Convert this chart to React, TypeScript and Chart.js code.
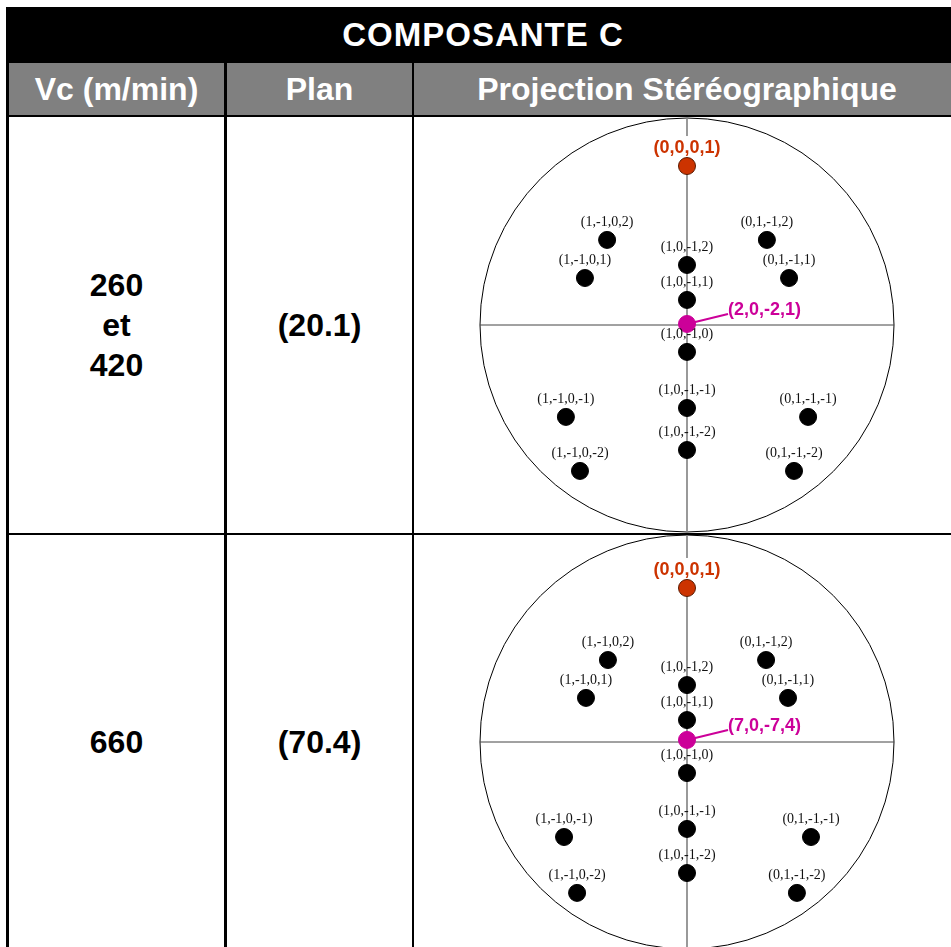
import React, { useEffect, useRef } from "react";
import { Chart, registerables } from "chart.js";

Chart.register(...registerables);

// ---------- DATA ----------
const tableTitle = "COMPOSANTE C";
const columnHeaders = ["Vc (m/min)", "Plan", "Projection Stéréographique"];
const vcValues = [["260", "et", "420"], ["660"]];
const planValues = ["(20.1)", "(70.4)"];

const poleLabels = [
  "(1,-1,0,2)", "(0,1,-1,2)", "(1,0,-1,2)", "(1,-1,0,1)", "(0,1,-1,1)",
  "(1,0,-1,1)", "(1,0,-1,0)", "(1,-1,0,-1)", "(1,0,-1,-1)", "(0,1,-1,-1)",
  "(1,0,-1,-2)", "(1,-1,0,-2)", "(0,1,-1,-2)",
];
const panel1X = [-0.386, 0.386, 0, -0.493, 0.493, 0, 0, -0.585, 0, 0.585, 0, -0.517, 0.517];
const panel1Y = [0.411, 0.411, 0.29, 0.227, 0.227, 0.121, -0.13, -0.444, -0.401, -0.444, -0.604, -0.705, -0.705];
const panel2X = [-0.382, 0.382, 0, -0.488, 0.488, 0, 0, -0.594, 0, 0.599, 0, -0.531, 0.531];
const panel2Y = [0.396, 0.396, 0.275, 0.213, 0.213, 0.106, -0.15, -0.459, -0.42, -0.459, -0.633, -0.729, -0.729];

const basalLabel = "(0,0,0,1)";
const basalY = [0.768, 0.744];
const planeLabels = ["(2,0,-2,1)", "(7,0,-7,4)"];
const planeY = [0.005, 0.01];

// ---------- STYLE ----------
const SANS = "'Liberation Sans', Arial, Helvetica, sans-serif";
const SERIF = "'Liberation Serif', 'Times New Roman', serif";
const RED = "#cc3300";
const MAGENTA = "#cc0099";

const netPlugin = {
  id: "stereonet",
  beforeDatasetsDraw(chart: any) {
    const { ctx, scales } = chart;
    const xs = scales.x, ys = scales.y;
    const cx = xs.getPixelForValue(0);
    const cy = ys.getPixelForValue(0);
    const r = xs.getPixelForValue(1) - cx;
    ctx.save();
    ctx.beginPath();
    ctx.arc(cx, cy, r, 0, Math.PI * 2);
    ctx.strokeStyle = "#000";
    ctx.lineWidth = 1;
    ctx.stroke();
    ctx.beginPath();
    ctx.moveTo(cx - r, cy);
    ctx.lineTo(cx + r, cy);
    ctx.strokeStyle = "#444";
    ctx.lineWidth = 1;
    ctx.stroke();
    ctx.beginPath();
    ctx.moveTo(cx, cy - r);
    ctx.lineTo(cx, cy + r);
    ctx.strokeStyle = "#808080";
    ctx.lineWidth = 1.6;
    ctx.stroke();
    chart.data.datasets.forEach((ds: any, i: number) => {
      if (ds.labelKind !== "plane") return;
      const meta = chart.getDatasetMeta(i);
      meta.data.forEach((el: any) => {
        ctx.beginPath();
        ctx.moveTo(el.x, el.y);
        ctx.lineTo(el.x + 41, el.y - 10);
        ctx.strokeStyle = MAGENTA;
        ctx.lineWidth = 2;
        ctx.stroke();
      });
    });
    ctx.restore();
  },
  afterDatasetsDraw(chart: any) {
    const { ctx } = chart;
    ctx.save();
    ctx.textBaseline = "middle";
    chart.data.datasets.forEach((ds: any, i: number) => {
      const meta = chart.getDatasetMeta(i);
      meta.data.forEach((el: any, j: number) => {
        const text = ds.pointLabels[j];
        if (ds.labelKind === "pole") {
          ctx.font = `14px ${SERIF}`;
          ctx.fillStyle = "#111";
          ctx.textAlign = "center";
          ctx.fillText(text, el.x, el.y - 18);
        } else if (ds.labelKind === "basal") {
          ctx.font = `bold 18px ${SANS}`;
          const w = ctx.measureText(text).width;
          ctx.fillStyle = "#fff";
          ctx.fillRect(el.x - w / 2 - 2, el.y - 30, w + 4, 21);
          ctx.fillStyle = RED;
          ctx.textAlign = "center";
          ctx.fillText(text, el.x, el.y - 18);
        } else if (ds.labelKind === "plane") {
          ctx.font = `bold 18px ${SANS}`;
          ctx.fillStyle = MAGENTA;
          ctx.textAlign = "left";
          ctx.fillText(text, el.x + 41, el.y - 14);
        }
      });
    });
    ctx.restore();
  },
};

function Stereonet({ px, py, bY, pLabel, pY, width, height, yHalf }: any) {
  const ref = useRef<HTMLCanvasElement>(null);
  useEffect(() => {
    if (!ref.current) return;
    const xHalf = width / 2 / 207;
    const chart = new Chart(ref.current, {
      type: "scatter",
      data: {
        datasets: [
          {
            data: px.map((x: number, i: number) => ({ x, y: py[i] })),
            pointLabels: poleLabels,
            labelKind: "pole",
            pointRadius: 8.5,
            pointBackgroundColor: "#000",
            pointBorderColor: "#000",
            pointBorderWidth: 1,
          } as any,
          {
            data: [{ x: 0, y: bY }],
            pointLabels: [basalLabel],
            labelKind: "basal",
            pointRadius: 8.5,
            pointBackgroundColor: RED,
            pointBorderColor: "#5a1a00",
            pointBorderWidth: 1,
          } as any,
          {
            data: [{ x: 0, y: pY }],
            pointLabels: [pLabel],
            labelKind: "plane",
            pointRadius: 8.5,
            pointBackgroundColor: MAGENTA,
            pointBorderColor: MAGENTA,
            pointBorderWidth: 1,
          } as any,
        ],
      },
      options: {
        animation: false,
        responsive: false,
        maintainAspectRatio: false,
        devicePixelRatio: 1,
        layout: { padding: 0, autoPadding: false },
        events: [],
        plugins: { legend: { display: false }, tooltip: { enabled: false } },
        scales: {
          x: { type: "linear", min: -xHalf, max: xHalf, display: false },
          y: { type: "linear", min: -yHalf, max: yHalf, display: false },
        },
      },
      plugins: [netPlugin],
    });
    return () => chart.destroy();
  }, []);
  return <canvas ref={ref} width={width} height={height} style={{ display: "block", width, height }} />;
}

const cols = [
  { l: 9, w: 215 },
  { l: 227, w: 185 },
  { l: 414, w: 546 },
];

export default function App() {
  const abs = (l: number, t: number, w: number, h: number, extra: any = {}) => ({
    position: "absolute" as const,
    left: l,
    top: t,
    width: w,
    height: h,
    ...extra,
  });
  const center = { display: "flex", alignItems: "center", justifyContent: "center", flexDirection: "column" as const };
  const rows = [
    { t: 117, h: 416 },
    { t: 535, h: 414 },
  ];
  const panels = [
    { px: panel1X, py: panel1Y },
    { px: panel2X, py: panel2Y },
  ];
  return (
    <div style={abs(0, 0, 951, 947, { overflow: "hidden", background: "#fff", fontFamily: SANS })}>
      <div style={abs(6, 7, 954, 1000, { background: "#000" })} />
      <div style={abs(6, 7, 954, 56, { ...center, color: "#fff", fontWeight: "bold", fontSize: 33, letterSpacing: 1 })}>
        {tableTitle}
      </div>
      {columnHeaders.map((h, i) => (
        <div
          key={h}
          style={abs(cols[i].l, 63, cols[i].w, 52, {
            ...center,
            background: "#808080",
            color: "#fff",
            fontWeight: "bold",
            fontSize: 32,
            whiteSpace: "nowrap",
          })}
        >
          {h}
        </div>
      ))}
      {rows.map((r, ri) => (
        <React.Fragment key={ri}>
          <div style={abs(cols[0].l, r.t, cols[0].w, r.h, { ...center, background: "#fff", fontWeight: "bold", fontSize: 32, lineHeight: "40px", color: "#000" })}>
            {vcValues[ri].map((v) => (
              <div key={v}>{v}</div>
            ))}
          </div>
          <div style={abs(cols[1].l, r.t, cols[1].w, r.h, { ...center, background: "#fff", fontWeight: "bold", fontSize: 32, color: "#000" })}>
            {planValues[ri]}
          </div>
          <div style={abs(cols[2].l, r.t, cols[2].w, r.h, { background: "#fff" })}>
            <Stereonet
              px={panels[ri].px}
              py={panels[ri].py}
              bY={basalY[ri]}
              pLabel={planeLabels[ri]}
              pY={planeY[ri]}
              width={cols[2].w}
              height={r.h}
              yHalf={r.h / 2 / 207}
            />
          </div>
        </React.Fragment>
      ))}
    </div>
  );
}
